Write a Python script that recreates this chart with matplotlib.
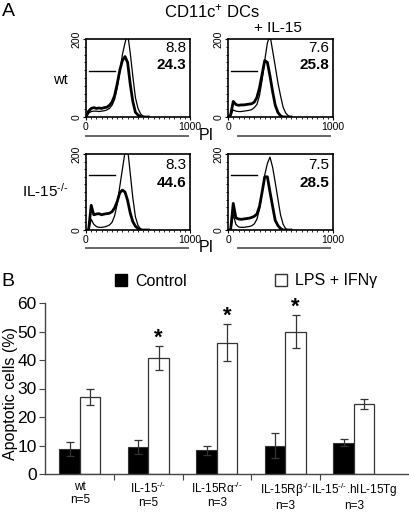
import numpy as np
import matplotlib
matplotlib.use('Agg')
import matplotlib.pyplot as plt
from matplotlib.lines import Line2D
from matplotlib.patches import Patch

plt.rcParams['font.family'] = ['Liberation Sans', 'DejaVu Sans']
plt.rcParams['mathtext.fontset'] = 'custom'
plt.rcParams['mathtext.rm'] = 'Liberation Sans'
plt.rcParams['mathtext.default'] = 'regular'

# ---- panel A: PI histograms (thin = untreated, thick = LPS + IFNg)
pi_x = [0, 25, 50, 75, 100, 125, 150, 175, 200, 225, 250, 275, 300,
        325, 350, 375, 400, 425, 450, 475, 500, 525, 550, 575, 600]

wt_thin = [0, 10, 14, 15, 15, 14, 15, 16, 18, 22, 30, 45, 75,
           115, 160, 190, 215, 165, 105, 50, 22, 8, 2, 0, 0]
wt_thick = [0, 15, 22, 24, 22, 23, 22, 24, 25, 30, 38, 55, 85,
            120, 145, 155, 140, 85, 40, 12, 5, 1, 0, 0, 0]
wt15_thin = [0, 5, 18, 15, 14, 14, 15, 16, 17, 19, 24, 32, 55,
             95, 145, 190, 210, 170, 130, 88, 55, 25, 10, 3, 0]
wt15_thick = [0, 5, 40, 32, 30, 31, 31, 32, 33, 34, 38, 50, 75,
              110, 145, 140, 105, 65, 30, 12, 3, 0, 0, 0, 0]
ko_thin = [0, 0, 28, 15, 9, 7, 7, 8, 10, 13, 20, 37, 68,
           115, 160, 205, 215, 150, 85, 35, 12, 3, 0, 0, 0]
ko_thick = [0, 0, 65, 40, 42, 43, 40, 42, 43, 44, 48, 58, 75,
            98, 105, 100, 78, 45, 22, 10, 4, 0, 0, 0, 0]
ko15_thin = [0, 0, 40, 15, 8, 7, 7, 8, 9, 11, 16, 28, 55,
             100, 145, 175, 192, 165, 125, 82, 40, 15, 3, 0, 0]
ko15_thick = [0, 0, 70, 32, 29, 28, 29, 30, 31, 33, 36, 42, 62,
              100, 140, 140, 100, 62, 25, 12, 4, 0, 0, 0, 0]

gate_x = [25, 280]
gate_y = [118, 118, 145, 145]
pct_low = ['8.8', '7.6', '8.3', '7.5']
pct_high = ['24.3', '25.8', '44.6', '28.5']

# ---- panel B: apoptotic cells
ko = '$^{\u2010/\u2010}$'
groups = ['wt\nn=5', 'IL-15' + ko + '\nn=5', 'IL-15R\u03b1' + ko + '\nn=3',
          'IL-15R\u03b2' + ko + '\nn=3', 'IL-15' + ko + '.hIL-15Tg\nn=3']
control = [8.7, 9.5, 8.3, 10.0, 11.0]
control_err = [2.5, 2.5, 1.5, 4.3, 1.3]
lps = [27.0, 40.7, 46.0, 50.0, 24.5]
lps_err = [2.8, 4.2, 6.5, 5.8, 1.7]
signif = [False, True, True, True, False]

W, H = 410, 516
fig = plt.figure(figsize=(W / 100, H / 100), dpi=100)


def box(x0, y0, x1, y1):
    return [x0 / W, 1 - y1 / H, (x1 - x0) / W, (y1 - y0) / H]


hist_boxes = [box(86, 39, 190, 117), box(228, 39, 333, 117),
              box(86, 154, 190, 230), box(228, 154, 333, 230)]
curves = [(wt_thin, wt_thick), (wt15_thin, wt15_thick),
          (ko_thin, ko_thick), (ko15_thin, ko15_thick)]

for i, (rect, (thin, thick)) in enumerate(zip(hist_boxes, curves)):
    ax = fig.add_axes(rect)
    ax.plot(pi_x, thin, color='black', lw=0.9)
    ax.plot(pi_x, thick, color='black', lw=2.0)
    ax.plot(gate_x, [gate_y[i]] * 2, color='black', lw=1.0)
    ax.set_xlim(0, 1000)
    ax.set_ylim(0, 200)
    ax.set_xticks([0, 1000])
    ax.set_xticks(np.arange(0, 1001, 50), minor=True)
    ax.set_yticks([0, 200])
    ax.set_yticks(np.arange(0, 201, 20), minor=True)
    ax.tick_params(labelsize=7.5, length=2.5, width=0.8, pad=1)
    ax.tick_params(which='minor', length=1.5, width=0.6)
    for lab in ax.get_yticklabels():
        lab.set_rotation(90)
        lab.set_va('center')
    for s in ax.spines.values():
        s.set_linewidth(1.2)
    top = i < 2
    ax.text(0.965, 0.885 if top else 0.855, pct_low[i], transform=ax.transAxes,
            ha='right', va='center', fontsize=11)
    ax.text(0.965, 0.667 if top else 0.62, pct_high[i], transform=ax.transAxes,
            ha='right', va='center', fontsize=11, fontweight='bold')

# gray underlines + PI labels
for (x0, x1, y) in [(86, 188, 136), (238, 330, 136), (86, 188, 248), (238, 330, 248)]:
    fig.add_artist(Line2D([x0 / W, x1 / W], [1 - y / H] * 2, color='#666666', lw=1.4))
fig.text(206 / W, 1 - 135 / H, 'PI', ha='center', va='center', fontsize=11.5)
fig.text(206 / W, 1 - 248 / H, 'PI', ha='center', va='center', fontsize=11.5)

fig.text(8 / W, 1 - 11 / H, 'A', ha='center', va='center', fontsize=14)
fig.text(212 / W, 1 - 11 / H, 'CD11c$^{+}$ DCs', ha='center', va='center', fontsize=12)
fig.text(278 / W, 1 - 28 / H, '+ IL-15', ha='center', va='center', fontsize=11)
fig.text(68 / W, 1 - 80 / H, 'wt', ha='right', va='center', fontsize=10.5)
fig.text(68 / W, 1 - 191 / H, 'IL-15' + ko, ha='right', va='center', fontsize=11)

# ---- panel B
fig.text(8 / W, 1 - 282 / H, 'B', ha='center', va='center', fontsize=14)
axb = fig.add_axes(box(45, 303, 410, 474))
xpos = np.arange(len(groups))
bw = 0.3
ek = dict(ecolor='#333333', elinewidth=0.9, capsize=3, capthick=0.9)
axb.bar(xpos - bw / 2, control, bw, yerr=control_err, color='black',
        edgecolor='#333333', lw=0.8, error_kw=ek, label='Control')
axb.bar(xpos + bw / 2, lps, bw, yerr=lps_err, color='white',
        edgecolor='#333333', lw=0.9, error_kw=ek, label='LPS + IFN\u03b3')
for x, v, e, s in zip(xpos, lps, lps_err, signif):
    if s:
        axb.text(x + bw / 2, v + e - 0.8, '*', ha='center', va='bottom',
                 fontsize=16, fontweight='bold', clip_on=False)

axb.set_xlim(-0.51, 4.82)
axb.set_ylim(0, 60)
axb.set_yticks(np.arange(0, 61, 10))
axb.set_xticks(xpos[:-1] + 0.5)
axb.set_xticklabels([])
axb.set_xticks(xpos, minor=True)
axb.set_xticklabels(groups, minor=True, fontsize=8.5, linespacing=1.1)
axb.tick_params(axis='x', which='minor', length=0, pad=5)
axb.tick_params(axis='x', which='major', length=4, color='#444444')
axb.tick_params(axis='y', labelsize=12.5, length=4, color='#444444', pad=2)
for s in ['top', 'right']:
    axb.spines[s].set_visible(False)
for s in ['left', 'bottom']:
    axb.spines[s].set_color('#444444')
    axb.spines[s].set_linewidth(1.0)
axb.set_ylabel('Apoptotic cells (%)', fontsize=11.5)
axb.yaxis.set_label_coords(-0.073, 0.47)

handles = [Patch(facecolor='black', edgecolor='black'),
           Patch(facecolor='white', edgecolor='#333333')]
fig.legend(handles, ['Control', 'LPS + IFN\u03b3'], ncol=2, frameon=False,
           loc='center', bbox_to_anchor=(246 / W, 1 - 281 / H), fontsize=11.5,
           handlelength=0.75, handleheight=0.75, handletextpad=0.5,
           columnspacing=5.5, borderpad=0)

fig.savefig('out.png', dpi=100)
